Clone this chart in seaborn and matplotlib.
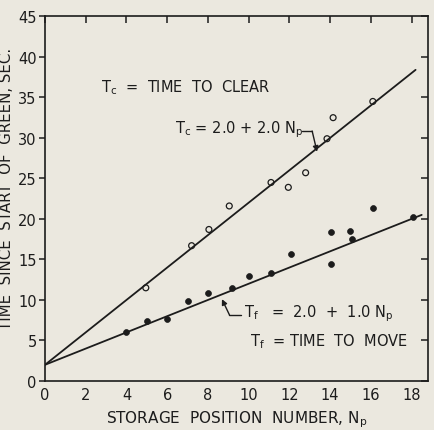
import numpy as np
import pandas as pd
import matplotlib
matplotlib.use("Agg")
import matplotlib.pyplot as plt
import seaborn as sns

# ---- data ----
move_x = [4.0, 5.0, 6.0, 7.0, 8.0, 9.2, 10.0, 11.1, 12.1, 14.05, 14.05, 15.0, 15.1, 16.1, 18.05]
move_y = [6.0, 7.4, 7.7, 9.85, 10.8, 11.5, 12.9, 13.3, 15.7, 14.4, 18.4, 18.5, 17.5, 21.3, 20.3]

clear_x = [4.95, 7.2, 8.05, 9.05, 11.1, 11.95, 12.8, 13.85, 14.15, 16.1]
clear_y = [11.5, 16.7, 18.7, 21.6, 24.5, 23.9, 25.7, 29.9, 32.5, 34.5]

# fitted lines: T = a + b * Np
clear_fit = {"a": 2.0, "b": 2.0, "x_end": 18.2}
move_fit = {"a": 2.0, "b": 1.0, "x_end": 18.5}

x_ticks = [0, 2, 4, 6, 8, 10, 12, 14, 16, 18]
y_ticks = [0, 5, 10, 15, 20, 25, 30, 35, 40, 45]

paper = "#ebe8df"
ink = "#1c1c1c"

sns.set_style("white")
plt.rcParams["font.family"] = ["DejaVu Sans"]
plt.rcParams["mathtext.default"] = "regular"

fig = plt.figure(figsize=(4.34, 4.31), dpi=100, facecolor=paper)
ax = fig.add_axes([0.1037, 0.1137, 0.882, 0.846])
ax.set_facecolor(paper)

df_move = pd.DataFrame({"x": move_x, "y": move_y})
df_clear = pd.DataFrame({"x": clear_x, "y": clear_y})

for fit in (clear_fit, move_fit):
    xs = np.array([0.0, fit["x_end"]])
    sns.lineplot(x=xs, y=fit["a"] + fit["b"] * xs, ax=ax, color=ink, lw=1.3)

sns.scatterplot(data=df_move, x="x", y="y", ax=ax, color=ink, s=18,
                edgecolor=ink, linewidth=0.5, zorder=3)
sns.scatterplot(data=df_clear, x="x", y="y", ax=ax, facecolor="none",
                edgecolor=ink, s=18, linewidth=0.9, zorder=3)

xlim = (0, 18.8)
ylim = (0, 45)
ax.set_xlim(*xlim)
ax.set_ylim(*ylim)
ax.set_xticks(x_ticks)
ax.set_yticks(y_ticks)
ax.set_xticklabels([str(t) for t in x_ticks], fontsize=10.5, color=ink)
ax.set_yticklabels([str(t) for t in y_ticks], fontsize=10.5, color=ink)
ax.tick_params(axis="x", direction="in", top=True, length=5, width=1.1,
               color=ink, pad=4)
ax.tick_params(axis="y", direction="out", length=4, width=1.1,
               color=ink, pad=2)
for side in ("left", "bottom", "top", "right"):
    ax.spines[side].set_color(ink)
    ax.spines[side].set_linewidth(1.2)

# inward ticks on the right frame
ax_r = ax.twinx()
ax_r.set_ylim(*ylim)
ax_r.set_yticks(y_ticks)
ax_r.tick_params(axis="y", direction="in", length=5, width=1.1, color=ink,
                 labelright=False)
for side in ("left", "bottom", "top", "right"):
    ax_r.spines[side].set_visible(False)

ax.set_xlabel("STORAGE  POSITION  NUMBER, N$_p$", fontsize=11, color=ink,
              labelpad=5)
ax.set_ylabel("TIME  SINCE  START  OF  GREEN, SEC.", fontsize=10.8, color=ink)
ax.yaxis.set_label_coords(-0.082, 0.53)

ax.text(2.75, 35.75, "T$_c$  =  TIME  TO  CLEAR", fontsize=10.5, color=ink,
        va="baseline")
ax.text(6.39, 30.7, "T$_c$ = 2.0 + 2.0 N$_p$", fontsize=10.5, color=ink,
        va="baseline")
ax.plot([12.62, 13.12], [30.85, 30.85], color=ink, lw=1.0)
ax.annotate("", xy=(13.36, 28.3), xytext=(13.12, 30.85),
            arrowprops=dict(arrowstyle="-|>", color=ink, lw=1.0,
                            shrinkA=0, shrinkB=0, mutation_scale=8))

ax.text(9.78, 8.0, "T$_f$   =  2.0  +  1.0 N$_p$", fontsize=10.5, color=ink,
        va="baseline")
ax.plot([9.06, 9.65], [8.15, 8.15], color=ink, lw=1.0)
ax.annotate("", xy=(8.69, 10.1), xytext=(9.06, 8.15),
            arrowprops=dict(arrowstyle="-|>", color=ink, lw=1.0,
                            shrinkA=0, shrinkB=0, mutation_scale=8))
ax.text(10.05, 4.4, "T$_f$  = TIME  TO  MOVE", fontsize=10.5, color=ink,
        va="baseline")

fig.savefig("out.png", dpi=100, facecolor=paper)
